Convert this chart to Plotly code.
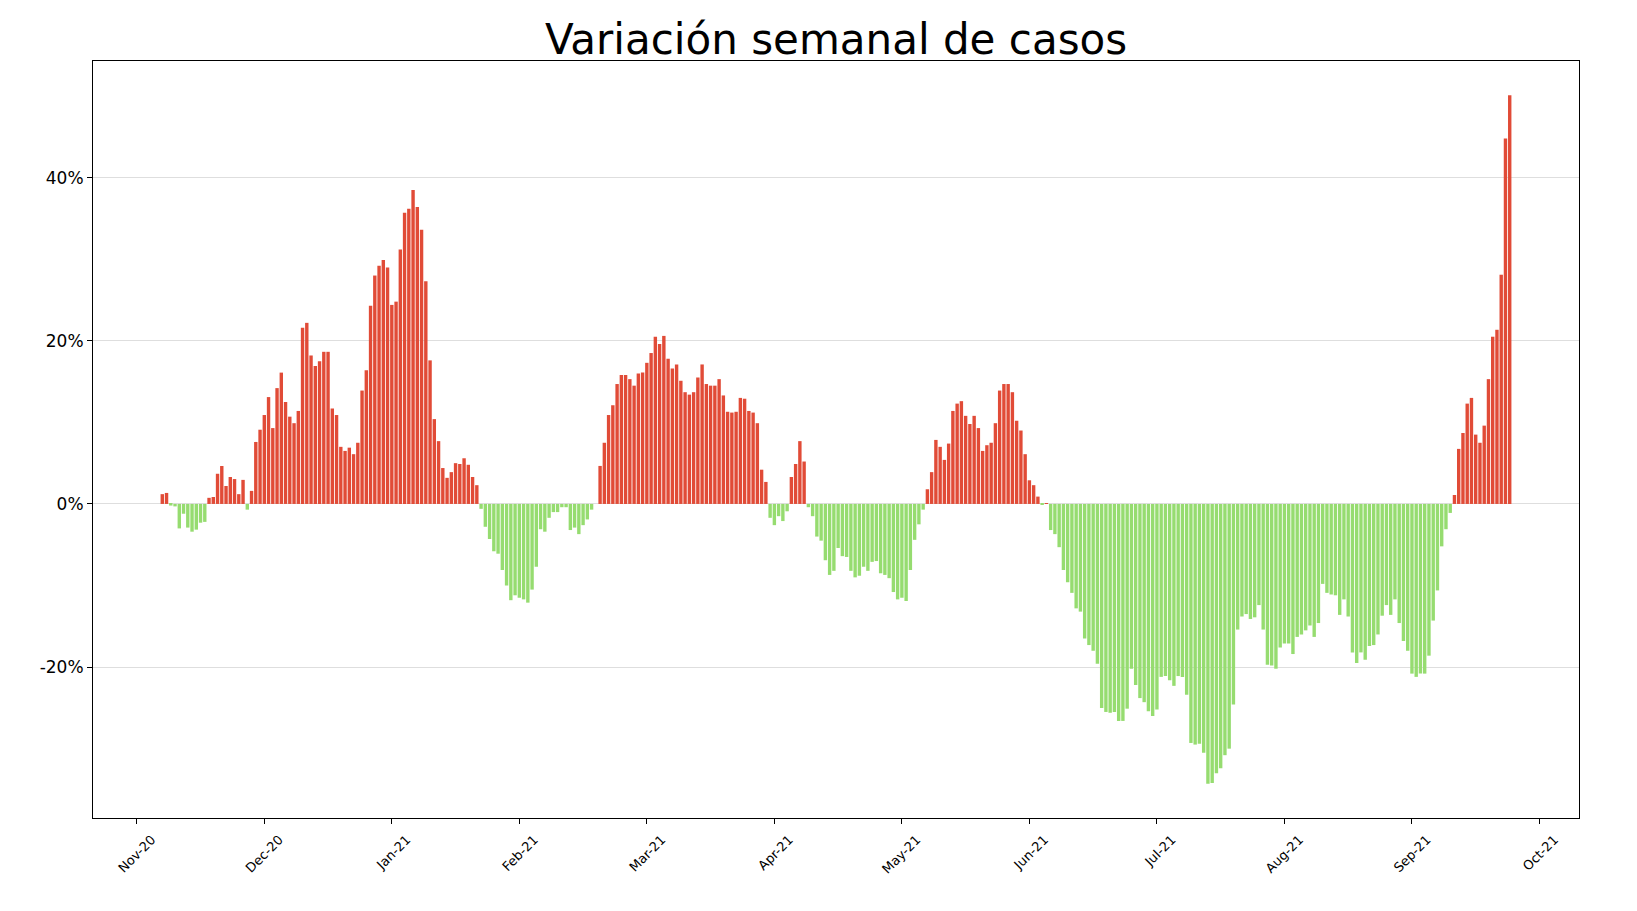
#!/usr/bin/env python3
"""
Weekly case variation chart (daily bars, red for growth, green for decline).

Writes an interactive Plotly page to out.html.
"""

from __future__ import annotations

import pandas as pd
import plotly.graph_objects as go


TITLE = "Variación semanal de casos"
FIRST_DAY = "2020-11-11"

# Weekly variation (%) per day, one list per month.
nov_2020 = [1.2, 1.35, -0.2, -0.3, -3.0, -1.2, -2.9, -3.4, -3.15, -2.3,
            -2.2, 0.75, 0.85, 3.7, 4.65, 2.2, 3.3, 3.05, 1.2, 2.95]
dec_2020 = [-0.7, 1.6, 7.6, 9.1, 10.9, 13.1, 9.3, 14.2, 16.1, 12.5,
            10.7, 9.9, 11.4, 21.6, 22.2, 18.2, 16.9, 17.5, 18.65, 18.65,
            11.7, 10.9, 7.0, 6.5, 6.9, 6.1, 7.5, 13.9, 16.4, 24.3, 28.0]
jan_2021 = [29.2, 29.9, 29.0, 24.4, 24.8, 31.2, 35.7, 36.2, 38.5, 36.4,
            33.6, 27.3, 17.6, 10.4, 7.7, 4.4, 3.2, 3.9, 5.0, 4.9,
            5.6, 4.8, 3.3, 2.3, -0.6, -2.8, -4.3, -5.8, -6.1, -8.1, -10.0]
feb_2021 = [-11.8, -11.2, -11.5, -11.7, -12.1, -10.5, -7.7, -3.1, -3.4, -1.7,
            -1.0, -1.0, -0.4, -0.4, -3.2, -2.9, -3.7, -2.6, -1.9, -0.7,
            0.0, 4.66, 7.5, 10.9, 12.1, 14.7, 15.8, 15.8]
mar_2021 = [15.3, 14.5, 16.0, 16.1, 17.3, 18.5, 20.5, 19.6, 20.6, 17.8,
            16.6, 17.1, 15.1, 13.7, 13.4, 13.7, 15.5, 17.1, 14.7, 14.5,
            14.5, 15.3, 13.3, 11.3, 11.2, 11.3, 13.0, 12.9, 11.4, 11.2, 9.9]
apr_2021 = [4.2, 2.7, -1.7, -2.6, -1.5, -2.1, -0.9, 3.3, 4.9, 7.7,
            5.2, -0.4, -1.5, -4.0, -4.5, -6.9, -8.7, -8.2, -5.4, -6.4,
            -6.5, -8.2, -9.0, -8.8, -7.7, -8.2, -7.1, -7.0, -8.5, -8.7]
may_2021 = [-9.1, -10.8, -11.7, -11.5, -11.9, -8.1, -4.4, -2.5, -0.7, 1.8,
            3.9, 7.85, 7.0, 5.4, 7.4, 11.4, 12.3, 12.6, 10.8, 9.8,
            10.8, 9.3, 6.5, 7.2, 7.5, 9.9, 13.9, 14.7, 14.7, 13.7, 10.2]
jun_2021 = [9.0, 6.1, 2.9, 2.3, 0.9, -0.1, 0.1, -3.2, -3.7, -5.3,
            -8.1, -9.6, -10.9, -12.8, -13.2, -16.5, -17.3, -18.0, -19.6, -25.0,
            -25.5, -25.6, -25.5, -26.6, -26.6, -25.1, -20.2, -22.2, -23.8, -24.3]
jul_2021 = [-25.4, -26.0, -25.2, -21.2, -21.1, -21.6, -22.3, -21.1, -21.2, -23.4,
            -29.3, -29.5, -29.4, -30.5, -34.3, -34.2, -33.0, -32.4, -30.8, -30.0,
            -24.6, -15.4, -13.8, -13.5, -14.1, -13.9, -12.4, -15.4, -19.7, -19.8, -20.2]
aug_2021 = [-17.6, -17.1, -17.1, -18.4, -16.3, -16.0, -15.5, -14.9, -16.3, -14.6,
            -9.8, -10.9, -11.1, -11.2, -13.6, -11.7, -13.8, -18.2, -19.5, -18.2,
            -19.1, -17.4, -17.3, -16.0, -13.7, -12.4, -13.6, -11.7, -14.6, -16.8, -18.0]
sep_2021 = [-20.8, -21.2, -20.8, -20.8, -18.6, -14.3, -10.6, -5.2, -3.1, -1.1,
            1.1, 6.75, 8.7, 12.3, 13.0, 8.5, 7.5, 9.6, 15.3, 20.5,
            21.35, 28.1, 44.8, 50.1]

# x ticks fall every 30 days (Nov-20 ... Oct-21)
X_TICK_START = "2020-11-05"
X_TICK_STEP_DAYS = 30

Y_TICKS = [-20, 0, 20, 40]
Y_TICK_LABELS = ["-20%", "0%", "20%", "40%"]

UP_COLOR = "#E14B37"
DOWN_COLOR = "#96DC70"


def build_series() -> pd.Series:
    values = (nov_2020 + dec_2020 + jan_2021 + feb_2021 + mar_2021 + apr_2021
              + may_2021 + jun_2021 + jul_2021 + aug_2021 + sep_2021)
    days = pd.date_range(FIRST_DAY, periods=len(values), freq="D")
    return pd.Series(values, index=days)


def create_figure(series: pd.Series) -> go.Figure:
    colors = [UP_COLOR if v >= 0 else DOWN_COLOR for v in series.values]

    fig = go.Figure(
        go.Bar(
            x=series.index,
            y=series.values,
            marker=dict(color=colors, line=dict(width=0)),
            hovertemplate="%{x|%d-%m-%Y}: %{y:.1f}%<extra></extra>",
        )
    )

    # matplotlib-like 5% padding around the data
    pad = pd.Timedelta(days=16.3)
    x_range = [series.index[0] - pad, series.index[-1] + pad]

    axis_common = dict(
        showline=True,
        mirror=True,
        linecolor="black",
        linewidth=1,
        ticks="outside",
        ticklen=5,
        tickcolor="black",
    )

    fig.update_layout(
        width=1637,
        height=911,
        title=dict(
            text=TITLE,
            x=0.5,
            xref="paper",
            xanchor="center",
            y=1 - 31 / 911,
            yref="container",
            yanchor="middle",
            font=dict(size=42, color="black"),
        ),
        font=dict(family="DejaVu Sans", color="black"),
        paper_bgcolor="white",
        plot_bgcolor="white",
        bargap=0.2,
        showlegend=False,
        margin=dict(l=85, r=66, t=53, b=101),
        xaxis=dict(
            type="date",
            range=x_range,
            tick0=X_TICK_START,
            dtick=X_TICK_STEP_DAYS * 86_400_000,
            tickformat="%b-%y",
            tickangle=-45,
            ticklabelshift=15,
            ticklabelstandoff=3,
            tickfont=dict(size=13),
            showgrid=False,
            **axis_common,
        ),
        yaxis=dict(
            range=[-38.5, 54.3],
            tickvals=Y_TICKS,
            ticktext=Y_TICK_LABELS,
            tickfont=dict(size=17),
            showgrid=True,
            gridcolor="#dedede",
            gridwidth=1,
            zeroline=True,
            zerolinecolor="#dedede",
            zerolinewidth=1,
            **axis_common,
        ),
    )
    return fig


def main() -> None:
    series = build_series()
    fig = create_figure(series)
    fig.write_html("out.html")


if __name__ == "__main__":
    main()
